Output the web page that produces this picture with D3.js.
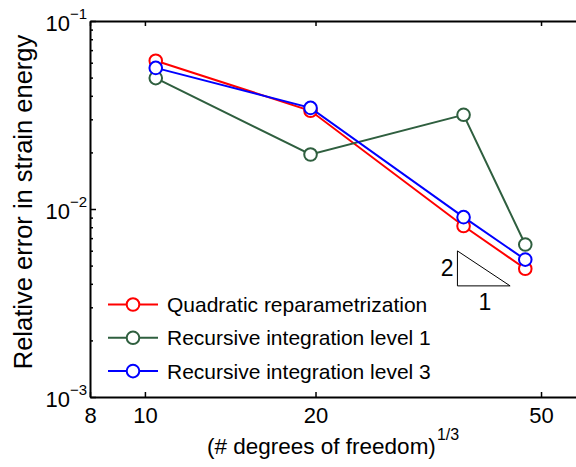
<!DOCTYPE html>
<html>
<head>
<meta charset="utf-8">
<script src="https://cdn.jsdelivr.net/npm/d3@7"></script>
<style>
  html, body { margin: 0; padding: 0; background: #fff; }
  svg { display: block; font-family: "Liberation Sans", Arial, sans-serif; }
</style>
</head>
<body>
<svg id="chart" width="576" height="467"></svg>
<script>
// (# degrees of freedom)^(1/3) for each refinement level
const dofs = [10.45, 19.6, 36.5, 46.9];

// Relative error in strain energy per method
const quadratic = [0.0615, 0.0333, 0.00812, 0.00481];
const recursive1 = [0.0497, 0.0195, 0.0317, 0.00647];
const recursive3 = [0.0563, 0.0345, 0.00905, 0.00538];

const seriesNames = ["Quadratic reparametrization", "Recursive integration level 1", "Recursive integration level 3"];
const seriesColors = ["#ff0000", "#2f5f3f", "#0000ff"];

const xTicks = [8, 10, 20, 50];
const yMajor = [1e-3, 1e-2, 1e-1];
const yExponents = ["-3", "-2", "-1"];

// Slope-2 reference triangle (x from, x to, bottom y)
const triX = [35.6, 44.1];
const triBottom = 0.0039;
const triSlope = 2;

const svg = d3.select("#chart");
const plotLeft = 90, plotTop = 21, plotBottom = 397;

const x = d3.scaleLog().domain([8, 62]).range([plotLeft, plotLeft + Math.log10(62 / 8) * 566.7]);
const y = d3.scaleLog().domain([1e-3, 1e-1]).range([plotBottom, plotTop]);

// minor y ticks 2..9 per decade
const yMinor = [];
[1e-3, 1e-2].forEach(d => { for (let k = 2; k <= 9; k++) yMinor.push(d * k); });

const axisColor = "#000";

// bottom axis
const gx = svg.append("g").attr("transform", `translate(0,${plotBottom})`)
  .call(d3.axisBottom(x).tickValues(xTicks).tickSize(-5).tickSizeOuter(0).tickPadding(10).tickFormat(d3.format("d")));
// top axis (ticks only)
const gxt = svg.append("g").attr("transform", `translate(0,${plotTop})`)
  .call(d3.axisTop(x).tickValues(xTicks).tickSize(-5).tickSizeOuter(0).tickFormat(""));
// left axis minor
const gym = svg.append("g").attr("transform", `translate(${plotLeft},0)`)
  .call(d3.axisLeft(y).tickValues(yMinor).tickSize(-3).tickSizeOuter(0).tickFormat(""));
// left axis major
const gy = svg.append("g").attr("transform", `translate(${plotLeft},0)`)
  .call(d3.axisLeft(y).tickValues(yMajor).tickSize(-6).tickSizeOuter(0).tickPadding(10).tickFormat(""));

[gx, gxt, gym, gy].forEach(g => {
  g.select(".domain").attr("stroke", axisColor).attr("stroke-width", 2);
  g.selectAll(".tick line").attr("stroke", axisColor).attr("stroke-width", 1.5);
});
gym.select(".domain").remove();
gx.selectAll(".tick text").attr("font-size", 22).attr("fill", "#000").attr("font-family", "Liberation Sans, Arial, sans-serif");

// y tick labels 10^n
gy.selectAll(".tick").each(function (d, i) {
  const t = d3.select(this).append("text")
    .attr("x", -3).attr("y", 9)
    .attr("text-anchor", "end")
    .attr("fill", "#000")
    .attr("font-family", "Liberation Sans, Arial, sans-serif")
    .attr("font-size", 22);
  t.append("tspan").text("10");
  t.append("tspan").attr("font-size", 15).attr("dy", -12).text("\u2212" + yExponents[i].slice(1));
});

// data series
const data = [quadratic, recursive1, recursive3];
const line = d3.line().x((d, i) => x(dofs[i])).y(d => y(d));

data.forEach((vals, s) => {
  const g = svg.append("g");
  g.append("path").datum(vals)
    .attr("d", line)
    .attr("fill", "none")
    .attr("stroke", seriesColors[s])
    .attr("stroke-width", 2);
  g.selectAll("circle").data(vals).join("circle")
    .attr("cx", (d, i) => x(dofs[i]))
    .attr("cy", d => y(d))
    .attr("r", 6.3)
    .attr("fill", "#fff")
    .attr("stroke", seriesColors[s])
    .attr("stroke-width", 2);
});

// slope triangle
const triTop = triBottom * Math.pow(triX[1] / triX[0], triSlope);
const triPts = [[triX[0], triTop], [triX[0], triBottom], [triX[1], triBottom]];
svg.append("path")
  .attr("d", d3.line().x(d => x(d[0])).y(d => y(d[1])).curve(d3.curveLinearClosed)(triPts))
  .attr("fill", "none")
  .attr("stroke", "#000")
  .attr("stroke-width", 1);
svg.append("text")
  .attr("x", x(triX[0]) - 4)
  .attr("y", (y(triTop) + y(triBottom)) / 2 + 8)
  .attr("text-anchor", "end")
  .attr("font-size", 23)
  .text("2");
svg.append("text")
  .attr("x", (x(triX[0]) + x(triX[1])) / 2 + 1)
  .attr("y", y(triBottom) + 24)
  .attr("text-anchor", "middle")
  .attr("font-size", 23)
  .text("1");

// legend
const legend = svg.append("g").attr("transform", "translate(108,304.5)");
seriesNames.forEach((name, i) => {
  const row = legend.append("g").attr("transform", `translate(0,${i * 33.3})`);
  row.append("line").attr("x1", 0).attr("x2", 50).attr("y1", 0).attr("y2", 0)
    .attr("stroke", seriesColors[i]).attr("stroke-width", 2);
  row.append("circle").attr("cx", 25).attr("cy", 0).attr("r", 6.3)
    .attr("fill", "#fff").attr("stroke", seriesColors[i]).attr("stroke-width", 2);
  row.append("text").attr("x", 59).attr("y", 7.5)
    .attr("font-size", 21).attr("fill", "#000")
    .text(name);
});

// axis titles
const xl = svg.append("text")
  .attr("x", 207).attr("y", 454)
  .attr("font-size", 22.5).attr("fill", "#000");
xl.append("tspan").text("(# degrees of freedom)");
xl.append("tspan").attr("font-size", 16).attr("dy", -14).attr("dx", 1).text("1/3");

svg.append("text")
  .attr("transform", "translate(32,202) rotate(-90)")
  .attr("text-anchor", "middle")
  .attr("font-size", 25.5)
  .attr("fill", "#000")
  .text("Relative error in strain energy");
</script>
</body>
</html>
